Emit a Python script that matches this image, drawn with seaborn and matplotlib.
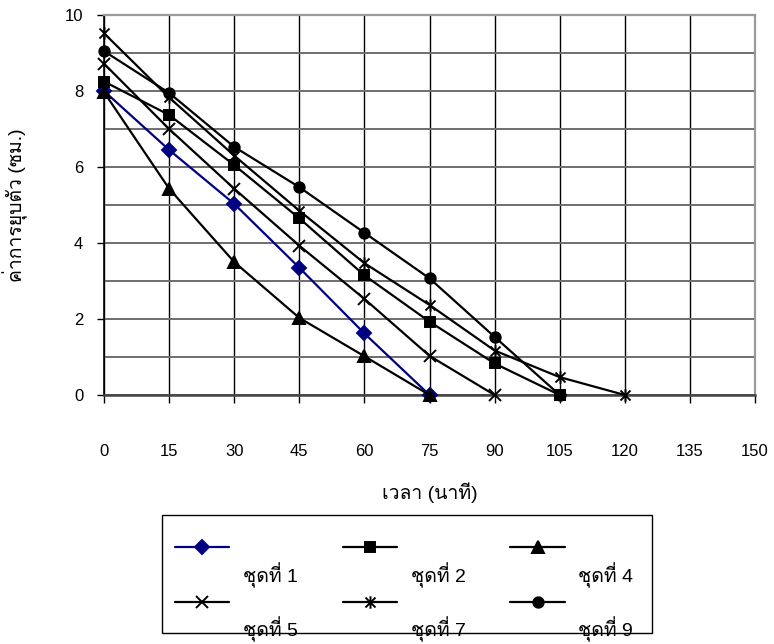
import sys
import numpy as np
import pandas as pd
import matplotlib
matplotlib.use("Agg")
import matplotlib.pyplot as plt
import seaborn as sns
from matplotlib import font_manager
from matplotlib.ft2font import FT2Font
from matplotlib.path import Path
from matplotlib.patches import Rectangle
from matplotlib.legend_handler import HandlerLine2D
from matplotlib.ticker import MultipleLocator

# ---------------- data ----------------
times = [0, 15, 30, 45, 60, 75, 90, 105, 120]
set1 = [8.0, 6.45, 5.03, 3.35, 1.62, 0.0]
set2 = [8.25, 7.37, 6.05, 4.65, 3.15, 1.93, 0.83, 0.0]
set4 = [7.97, 5.43, 3.5, 2.03, 1.02, 0.0]
set5 = [8.72, 7.0, 5.43, 3.93, 2.53, 1.03, 0.0]
set7 = [9.52, 7.83, 6.3, 4.85, 3.47, 2.37, 1.17, 0.47, 0.0]
set9 = [9.05, 7.95, 6.53, 5.47, 4.27, 3.07, 1.53, 0.0]
series_names = ["ชุดที่ 1", "ชุดที่ 2", "ชุดที่ 4", "ชุดที่ 5", "ชุดที่ 7", "ชุดที่ 9"]
series_values = [set1, set2, set4, set5, set7, set9]
x_ticks = [0, 15, 30, 45, 60, 75, 90, 105, 120, 135, 150]
y_ticks = [0, 2, 4, 6, 8, 10]
x_label = "เวลา (นาที)"
y_label = "ค่าการยุบตัว (ซม.)"

# ---------------- fonts ----------------
def find_thai_family():
    pref = ["Tahoma", "Loma", "Garuda", "Noto Sans Thai", "Sarabun", "Waree",
            "Umpush", "Kinnari", "Norasi", "Laksaman", "Sawasdee", "Tlwg"]
    found = []
    for f in font_manager.fontManager.ttflist:
        try:
            cm = FT2Font(f.fname).get_charmap()
        except Exception:
            continue
        if 0x0E01 in cm and 0x0E35 in cm and 0x0E38 in cm:
            found.append(f.name)
    for p in pref:
        for n in found:
            if p.lower() in n.lower():
                return n
    return found[0] if found else None

sns.set_theme(style="white")
thai = find_thai_family()
fams = ["Liberation Sans"]
if thai:
    fams.append(thai)
fams.append("DejaVu Sans")
plt.rcParams["font.family"] = fams

# ---------------- figure ----------------
fig = plt.figure(figsize=(7.74, 6.44), dpi=100)
ax = fig.add_axes([104 / 774, 1 - 395 / 644, (755 - 104) / 774, (395 - 15) / 644])

star = Path([(-1, -1), (1, 1), (-1, 1), (1, -1), (0, -1.25), (0, 1.25)],
            [Path.MOVETO, Path.LINETO, Path.MOVETO, Path.LINETO, Path.MOVETO, Path.LINETO])
styles = [
    dict(marker="D", color="#000080", ms=7),
    dict(marker="s", color="black", ms=7.5),
    dict(marker="^", color="black", ms=8),
    dict(marker="x", color="black", ms=8),
    dict(marker=star, color="black", ms=9),
    dict(marker="o", color="black", ms=7.5),
]

for name, vals, st in zip(series_names, series_values, styles):
    df = pd.DataFrame({"t": times[:len(vals)], "v": vals})
    sns.lineplot(data=df, x="t", y="v", ax=ax, color=st["color"], marker=st["marker"],
                 markersize=st["ms"], markeredgecolor=st["color"], markerfacecolor=st["color"],
                 markeredgewidth=1.4, linewidth=1.6, label=name, clip_on=False, zorder=5)

ax.set_xlim(0, 150)
ax.set_ylim(0, 10)
ax.set_xticks(x_ticks)
ax.set_yticks(y_ticks)
ax.yaxis.set_minor_locator(MultipleLocator(1))
ax.grid(False)
ax.grid(True, axis="y", which="both", color="#6e6e6e", linewidth=1.4, zorder=0)
ax.grid(True, axis="x", which="major", color="black", linewidth=1.0, zorder=0)
ax.set_axisbelow(True)

for s in ["left", "bottom"]:
    ax.spines[s].set_color("black")
    ax.spines[s].set_linewidth(1.2)
ax.spines["bottom"].set_color("#444444")
ax.spines["bottom"].set_linewidth(1.8)
for s in ["top", "right"]:
    ax.spines[s].set_color("#9a9a9a")
    ax.spines[s].set_linewidth(1.6)

ax.tick_params(axis="x", which="major", direction="out", length=6, width=1, color="black",
               bottom=True, labelsize=12, pad=29, labelcolor="black")
ax.tick_params(axis="y", which="major", direction="out", length=5, width=1, color="black",
               left=True, labelsize=12, pad=10, labelcolor="black")
ax.tick_params(axis="y", which="minor", length=0)

ax.set_xlabel(x_label, fontsize=14, color="black")
ax.set_ylabel(y_label, fontsize=14, color="black")
ax.xaxis.set_label_coords(0.5, -0.258)
ax.xaxis.label.set_va("center")
ax.yaxis.set_label_coords(-0.137, 0.5)
ax.yaxis.label.set_va("center")

# ---------------- legend ----------------
class RaisedLine(HandlerLine2D):
    def create_artists(self, legend, orig_handle, xdescent, ydescent, width, height, fontsize, trans):
        arts = super().create_artists(legend, orig_handle, xdescent, ydescent, width, height, fontsize, trans)
        for a in arts:
            a.set_ydata(np.asarray(a.get_ydata()) + 20)
        return arts

handles, labels = ax.get_legend_handles_labels()
if ax.legend_:
    ax.legend_.remove()
order = [0, 3, 1, 4, 2, 5]  # row-wise filling for 3 columns
handles = [handles[i] for i in order]
labels = [labels[i] for i in order]
leg = fig.legend(handles, labels, loc="upper left", bbox_to_anchor=(175 / 774, 1 - 562 / 644),
                 ncol=3, frameon=False, fontsize=14, borderpad=0, borderaxespad=0,
                 handlelength=2.8, handletextpad=0.7, columnspacing=2.3, labelspacing=1.5,
                 handler_map={h: RaisedLine() for h in handles})
for t in leg.get_texts():
    t.set_color("black")
fig.add_artist(Rectangle((162 / 774, 1 - 633 / 644), (652 - 162) / 774, (633 - 515) / 644,
                         transform=fig.transFigure, fill=False, edgecolor="black", linewidth=1.0))

fig.savefig("out.png", dpi=100, facecolor="white")
